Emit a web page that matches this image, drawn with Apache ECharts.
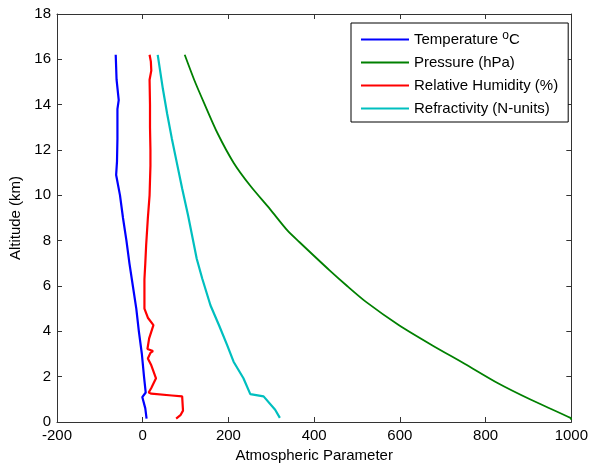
<!DOCTYPE html>
<html>
<head>
<meta charset="utf-8">
<script src="https://cdn.jsdelivr.net/npm/echarts@6/dist/echarts.min.js"></script>
<style>
  html, body { margin: 0; padding: 0; background: #fff; }
  #chart { width: 591px; height: 468px; }
</style>
</head>
<body>
<div id="chart"></div>
<script>
// values: altitude (km) paired with each parameter
const tempAlt = [0.15, 0.6, 1.1, 1.3, 2.0, 3.0, 4.0, 5.0, 6.0, 7.0, 8.0, 9.0, 10.0, 10.9, 11.5, 12.5, 13.8, 14.2, 15.1, 16.2];
const tempVal = [9, 6, -1, 7, 3, -2, -9, -15, -23, -31, -38, -46, -53, -62, -60, -59, -59, -56, -61, -63];

const presAlt = [0.1, 0.18, 0.98, 1.71, 2.56, 3.39, 4.27, 5.3, 6.0, 6.69, 7.93, 8.44, 9.39, 10.42, 11.44, 12.76, 14.08, 15.1, 16.2];
const presVal = [1000, 998, 906, 829, 752, 675, 598, 521, 477, 436, 366, 338, 297, 251, 212, 174, 143, 120, 98];

const rhAlt = [0.15, 0.3, 0.5, 1.13, 1.17, 1.25, 1.3, 1.5, 1.93, 2.5, 2.8, 3.05, 3.13, 3.22, 3.69, 4.27, 4.6, 5.0, 6.3, 7.0, 7.8, 9.0, 10.0, 11.3, 12.0, 13.0, 14.0, 15.1, 15.5, 15.9, 16.2];
const rhVal = [78, 88, 94, 92, 68, 20, 14, 20, 31, 20, 12, 18, 24, 11, 15, 25, 12, 4, 4, 6, 8, 12, 16, 18, 18, 17, 17, 16, 20, 19, 16];

const refAlt = [0.18, 0.54, 1.13, 1.23, 1.93, 2.66, 3.39, 4.27, 5.15, 6.32, 7.2, 8.15, 9.1, 10.3, 11.4, 12.5, 13.6, 14.7, 16.2];
const refVal = [320, 309, 282, 251, 235, 212, 197, 178, 158, 139, 126, 116, 106, 92, 80, 68, 57, 47, 35];

const xTicks = { min: -200, max: 1000, interval: 200 };
const yTicks = { min: 0, max: 18, interval: 2 };

const font = 'Liberation Sans, Arial, sans-serif';
const axisColor = '#333';

function pairs(vals, alts) {
  return vals.map((v, i) => [v, alts[i]]);
}

function lineSeries(name, vals, alts, color, width, smooth) {
  return {
    name,
    type: 'line',
    data: pairs(vals, alts),
    showSymbol: false,
    symbol: 'none',
    smooth: smooth || false,
    lineStyle: { color, width },
    itemStyle: { color },
    xAxisIndex: 0,
    yAxisIndex: 0
  };
}

function frameAxis(extra) {
  return Object.assign({
    type: 'value',
    axisLine: { onZero: false, lineStyle: { color: axisColor, width: 1 } },
    axisTick: { inside: true, length: 5, lineStyle: { color: axisColor } },
    axisLabel: { show: false },
    splitLine: { show: false }
  }, extra);
}

const labelStyle = { color: '#000', fontSize: 15, fontFamily: font, margin: 6, formatter: (v) => String(v) };

const chart = echarts.init(document.getElementById('chart'));

chart.setOption({
  backgroundColor: '#fff',
  animation: false,
  grid: { left: 55, right: 17, top: 14, bottom: 44 },
  textStyle: { fontFamily: font },
  xAxis: [
    frameAxis({
      ...xTicks,
      position: 'bottom',
      name: 'Atmospheric Parameter',
      nameLocation: 'middle',
      nameGap: 26,
      nameTextStyle: { color: '#000', fontSize: 15, fontFamily: font },
      axisLabel: labelStyle
    }),
    frameAxis({ ...xTicks, position: 'top' })
  ],
  yAxis: [
    frameAxis({
      ...yTicks,
      position: 'left',
      name: 'Altitude (km)',
      nameLocation: 'middle',
      nameGap: 34,
      nameTextStyle: { color: '#000', fontSize: 15, fontFamily: font },
      axisLabel: labelStyle
    }),
    frameAxis({ ...yTicks, position: 'right' })
  ],
  legend: {
    orient: 'vertical',
    left: 351,
    top: 23,
    padding: [7, 10, 6, 10],
    itemGap: 8,
    itemWidth: 48,
    itemHeight: 2,
    icon: 'rect',
    borderColor: '#000',
    borderWidth: 1,
    borderRadius: 0,
    backgroundColor: '#fff',
    data: ['Temperature', 'Pressure (hPa)', 'Relative Humidity (%)', 'Refractivity (N-units)'],
    formatter: (name) => name === 'Temperature' ? 'Temperature {sup|o}C' : name,
    textStyle: {
      color: '#000',
      fontSize: 15,
      fontFamily: font,
      rich: {
        sup: { fontSize: 12, verticalAlign: 'top', padding: [0, 0, 7, 0], fontFamily: font, color: '#000' }
      }
    }
  },
  series: [
    lineSeries('Temperature', tempVal, tempAlt, '#0000ff', 2.2),
    lineSeries('Pressure (hPa)', presVal, presAlt, '#008000', 1.8, 0.25),
    lineSeries('Relative Humidity (%)', rhVal, rhAlt, '#ff0000', 2.2),
    lineSeries('Refractivity (N-units)', refVal, refAlt, '#00bfbf', 2.2)
  ]
});
</script>
</body>
</html>
